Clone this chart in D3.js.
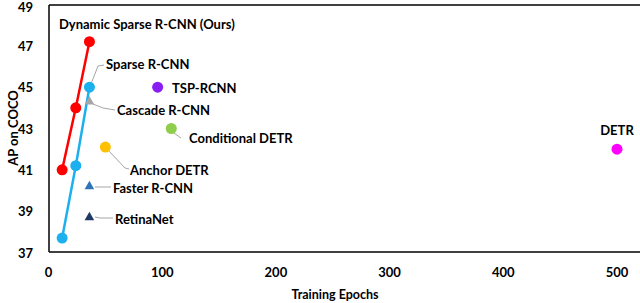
<!DOCTYPE html>
<html>
<head>
<meta charset="utf-8">
<script src="https://cdn.jsdelivr.net/npm/d3@7"></script>
<style>
  body { margin: 0; background: #fff; }
  svg text { font-family: Lato, "Open Sans", sans-serif; font-weight: bold; fill: #000; }
</style>
</head>
<body>
<svg id="chart" width="640" height="303"></svg>
<script>
// Dynamic Sparse R-CNN (ours) and Sparse R-CNN curves
const oursEpochs = [12, 24, 36];
const oursAP = [41.0, 44.0, 47.2];
const sparseEpochs = [12, 24, 36];
const sparseAP = [37.7, 41.2, 45.0];

// single-point methods
const otherNames = ["Cascade R-CNN", "TSP-RCNN", "Conditional DETR", "Anchor DETR", "Faster R-CNN", "RetinaNet", "DETR"];
const otherEpochs = [36, 96, 108, 50, 36, 36, 500];
const otherAP = [44.3, 45.0, 43.0, 42.1, 40.2, 38.7, 42.0];
const otherShapes = ["triangle", "circle", "circle", "circle", "triangle", "triangle", "circle"];
const otherColors = ["#a6a6a6", "#8a1ef2", "#8fcd4c", "#ffc000", "#2e75b6", "#1f3864", "#ff00ff"];

const xTicks = [0, 100, 200, 300, 400, 500];
const yTicks = [37, 39, 41, 43, 45, 47, 49];

const svg = d3.select("#chart");
const x = d3.scaleLinear().domain([0, 500]).range([48.5, 617]);
const y = d3.scaleLinear().domain([37, 49]).range([252.5, 4.5]);

// frame: left, bottom, top
svg.append("line").attr("x1", 49).attr("x2", 49).attr("y1", 5).attr("y2", 252)
    .attr("stroke", "#000").attr("stroke-width", 1.5);
svg.append("line").attr("x1", 49).attr("x2", 640).attr("y1", 252).attr("y2", 252)
    .attr("stroke", "#000").attr("stroke-width", 1.5);
svg.append("line").attr("x1", 49).attr("x2", 640).attr("y1", 5).attr("y2", 5)
    .attr("stroke", "#000").attr("stroke-width", 1.5);

// tick labels
svg.selectAll(".ytick").data(yTicks).enter().append("text")
    .attr("class", "ytick")
    .attr("x", 33).attr("y", d => Math.max(y(d), 7))
    .attr("text-anchor", "end").attr("dominant-baseline", "central")
    .attr("font-size", "13px")
    .text(d => d);

svg.selectAll(".xtick").data(xTicks).enter().append("text")
    .attr("class", "xtick")
    .attr("x", d => x(d)).attr("y", 272)
    .attr("text-anchor", "middle").attr("dominant-baseline", "central")
    .attr("font-size", "13px")
    .text(d => d);

// axis titles
svg.append("text")
    .attr("x", 335).attr("y", 294)
    .attr("text-anchor", "middle").attr("dominant-baseline", "central")
    .attr("font-size", "12.5px")
    .text("Training Epochs");
svg.append("text")
    .attr("transform", "translate(13,128) rotate(-90)")
    .attr("text-anchor", "middle").attr("dominant-baseline", "central")
    .attr("font-size", "13px")
    .text("AP on COCO");

// leader lines (label callouts)
const leaders = [
    [[91, 84], [98, 66], [104, 65]],   // Sparse R-CNN
    [[93, 104], [103, 108], [115, 110]], // Cascade
    [[174, 133], [181, 138]],          // Conditional DETR
    [[108, 150], [125, 168], [129, 169]], // Anchor DETR
    [[95, 187], [111, 187]],           // Faster
    [[95, 217], [100, 218], [113, 218]] // RetinaNet
];
svg.selectAll(".leader").data(leaders).enter().append("path")
    .attr("class", "leader")
    .attr("d", d => d3.line()(d))
    .attr("fill", "none").attr("stroke", "#a6a6a6").attr("stroke-width", 1);

// curves
const line = d3.line().x(d => x(d[0])).y(d => y(d[1]));
function drawSeries(epochs, ap, color) {
    const pts = epochs.map((e, i) => [e, ap[i]]);
    svg.append("path").datum(pts).attr("d", line)
        .attr("fill", "none").attr("stroke", color).attr("stroke-width", 2.5);
    svg.selectAll(null).data(pts).enter().append("circle")
        .attr("cx", d => x(d[0])).attr("cy", d => y(d[1])).attr("r", 5.5)
        .attr("fill", color);
}
drawSeries(sparseEpochs, sparseAP, "#1cb0ee");
drawSeries(oursEpochs, oursAP, "#ff0000");

// other methods
const others = otherNames.map((n, i) => ({name: n, ep: otherEpochs[i], ap: otherAP[i], shape: otherShapes[i], color: otherColors[i]}));
const tri = d3.symbol().type(d3.symbolTriangle).size(40);
svg.selectAll(".other").data(others).enter().append("path")
    .attr("class", "other")
    .attr("transform", d => `translate(${x(d.ep)},${y(d.ap)})`)
    .attr("d", d => d.shape === "triangle" ? tri() : d3.symbol().type(d3.symbolCircle).size(95)())
    .attr("fill", d => d.color);

// labels
const labels = [
    {t: "Dynamic Sparse R-CNN (Ours)", x: 59, y: 24, a: "start"},
    {t: "Sparse R-CNN", x: 106, y: 64, a: "start"},
    {t: "TSP-RCNN", x: 172, y: 88, a: "start"},
    {t: "Cascade R-CNN", x: 117, y: 110, a: "start"},
    {t: "Conditional DETR", x: 189, y: 138, a: "start"},
    {t: "Anchor DETR", x: 130, y: 170, a: "start"},
    {t: "Faster R-CNN", x: 113, y: 188, a: "start"},
    {t: "RetinaNet", x: 115, y: 219, a: "start"},
    {t: "DETR", x: 617, y: 130, a: "middle"}
];
svg.selectAll(".lbl").data(labels).enter().append("text")
    .attr("class", "lbl")
    .attr("x", d => d.x).attr("y", d => d.y)
    .attr("text-anchor", d => d.a).attr("dominant-baseline", "central")
    .attr("font-size", "13px")
    .text(d => d.t);
</script>
</body>
</html>
